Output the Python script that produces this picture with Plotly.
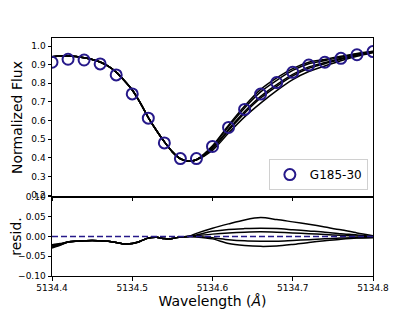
import plotly.graph_objects as go

# ---- data ----
obs_wave = [5134.40, 5134.42, 5134.44, 5134.46, 5134.48, 5134.50, 5134.52, 5134.54,
            5134.56, 5134.58, 5134.60, 5134.62, 5134.64, 5134.66, 5134.68, 5134.70,
            5134.72, 5134.74, 5134.76, 5134.78, 5134.80]
obs_flux = [0.913, 0.929, 0.925, 0.904, 0.845, 0.743, 0.613, 0.480,
            0.396, 0.396, 0.461, 0.563, 0.660, 0.742, 0.804, 0.859,
            0.898, 0.913, 0.934, 0.953, 0.970]

# model grid: fine on the left (all models agree), coarser on the right
model_wave_left = [5134.40, 5134.41, 5134.42, 5134.43, 5134.44, 5134.45, 5134.46, 5134.47,
                   5134.48, 5134.49, 5134.50, 5134.51, 5134.52, 5134.53, 5134.54, 5134.55,
                   5134.56, 5134.57, 5134.58]
model_wave_right = [5134.60, 5134.62, 5134.64, 5134.66, 5134.68, 5134.70,
                    5134.72, 5134.74, 5134.76, 5134.78, 5134.80]
model_left = [0.942, 0.946, 0.947, 0.944, 0.937, 0.928, 0.914, 0.892,
              0.860, 0.815, 0.764, 0.695, 0.616, 0.548, 0.486, 0.432,
              0.395, 0.382, 0.390]
model_right = [
    [0.440, 0.533, 0.620, 0.694, 0.761, 0.820, 0.863, 0.893, 0.921, 0.945, 0.964],
    [0.448, 0.547, 0.640, 0.721, 0.784, 0.840, 0.881, 0.905, 0.929, 0.950, 0.968],
    [0.455, 0.554, 0.649, 0.730, 0.793, 0.848, 0.888, 0.911, 0.933, 0.952, 0.969],
    [0.462, 0.568, 0.668, 0.754, 0.816, 0.869, 0.905, 0.922, 0.940, 0.957, 0.971],
    [0.465, 0.575, 0.678, 0.767, 0.829, 0.879, 0.913, 0.928, 0.945, 0.960, 0.972],
]

resid_wave_left = [5134.40, 5134.41, 5134.42, 5134.43, 5134.44, 5134.45, 5134.46, 5134.47,
                   5134.48, 5134.49, 5134.50, 5134.51, 5134.52, 5134.53, 5134.54, 5134.55,
                   5134.56, 5134.57]
resid_wave_right = [5134.58, 5134.60, 5134.62, 5134.64, 5134.66, 5134.68, 5134.70,
                    5134.72, 5134.74, 5134.76, 5134.78, 5134.80]
resid_left_start = [-0.021, -0.023, -0.025, -0.027, -0.029]
resid_left_mid = [-0.018, -0.019, -0.020, -0.021, -0.022]
resid_left_common = [-0.014, -0.012, -0.011, -0.010, -0.011, -0.012,
                     -0.015, -0.019, -0.018, -0.012, -0.004, -0.002, -0.005, -0.005,
                     -0.001, 0.000]
resid_right = [
    [0.008, 0.021, 0.032, 0.042, 0.048, 0.043, 0.037, 0.031, 0.024, 0.017, 0.009, 0.002],
    [0.004, 0.013, 0.018, 0.020, 0.021, 0.020, 0.017, 0.014, 0.011, 0.007, 0.004, 0.000],
    [0.002, 0.006, 0.009, 0.011, 0.012, 0.011, 0.009, 0.007, 0.005, 0.003, 0.001, -0.001],
    [0.000, -0.003, -0.008, -0.011, -0.012, -0.012, -0.010, -0.008, -0.006, -0.004, -0.003, -0.002],
    [-0.001, -0.006, -0.018, -0.023, -0.025, -0.024, -0.020, -0.015, -0.011, -0.007, -0.004, -0.003],
]

star_name = "G185-30"
x_ticks = [5134.4, 5134.5, 5134.6, 5134.7, 5134.8]
flux_ticks = [0.2, 0.3, 0.4, 0.5, 0.6, 0.7, 0.8, 0.9, 1.0]
resid_ticks = [-0.10, -0.05, 0.00, 0.05, 0.10]

# ---- figure ----
NAVY = "#26198a"
FONT = "DejaVu Sans"

fig = go.Figure()

for mr in model_right:
    fig.add_trace(go.Scatter(
        x=model_wave_left + model_wave_right, y=model_left + mr,
        mode="lines", line=dict(color="black", width=1.5, shape="spline", smoothing=0.8),
        showlegend=False, xaxis="x", yaxis="y", hoverinfo="skip"))

fig.add_trace(go.Scatter(
    x=obs_wave, y=obs_flux, mode="markers", name=star_name,
    marker=dict(symbol="circle-open", size=11, color=NAVY, line=dict(width=2, color=NAVY)),
    xaxis="x", yaxis="y"))

for start, mid, rr in zip(resid_left_start, resid_left_mid, resid_right):
    fig.add_trace(go.Scatter(
        x=resid_wave_left + resid_wave_right, y=[start, mid] + resid_left_common + rr,
        mode="lines", line=dict(color="black", width=1.5, shape="spline", smoothing=0.8),
        showlegend=False, xaxis="x2", yaxis="y2", hoverinfo="skip"))

fig.add_hline(y=0, line=dict(color=NAVY, width=1.5, dash="6px,3px"), xref="x2", yref="y2")

axis_common = dict(showline=True, linecolor="black", linewidth=1, mirror=True,
                   ticks="outside", ticklen=3.5, tickcolor="black", showgrid=False,
                   zeroline=False, automargin=False,
                   tickfont=dict(family=FONT, size=9, color="black"))

# the page body adds an 8px offset, so the figure is sized to fill the rest
fig.update_layout(
    width=407, height=303,
    margin=dict(l=44, r=42, t=30, b=35),
    paper_bgcolor="white", plot_bgcolor="white",
    font=dict(family=FONT, color="black"),
    xaxis=dict(domain=[0, 1], range=[5134.4, 5134.8], tickvals=x_ticks,
               showticklabels=False, anchor="y", **axis_common),
    yaxis=dict(domain=[0.332, 1], range=[0.19, 1.043], tickvals=flux_ticks,
               tickformat=".1f", anchor="x",
               title=dict(text="Normalized Flux", font=dict(family=FONT, size=14), standoff=5),
               **axis_common),
    xaxis2=dict(domain=[0, 1], range=[5134.4, 5134.8], tickvals=x_ticks,
                tickformat=".1f", anchor="y2",
                title=dict(text="Wavelength (<i>Å</i>)", font=dict(family=FONT, size=14), standoff=3),
                **axis_common),
    yaxis2=dict(domain=[0, 0.332], range=[-0.1, 0.1], tickvals=resid_ticks,
                tickformat=".2f", anchor="x2",
                title=dict(text="resid.", font=dict(family=FONT, size=14), standoff=9),
                **axis_common),
    legend=dict(x=0.984, y=0.361, xanchor="right", yanchor="bottom",
                bgcolor="white", bordercolor="#d0d0d0", borderwidth=1,
                font=dict(family=FONT, size=12, color="black")),
)

fig.write_html("out.html")
